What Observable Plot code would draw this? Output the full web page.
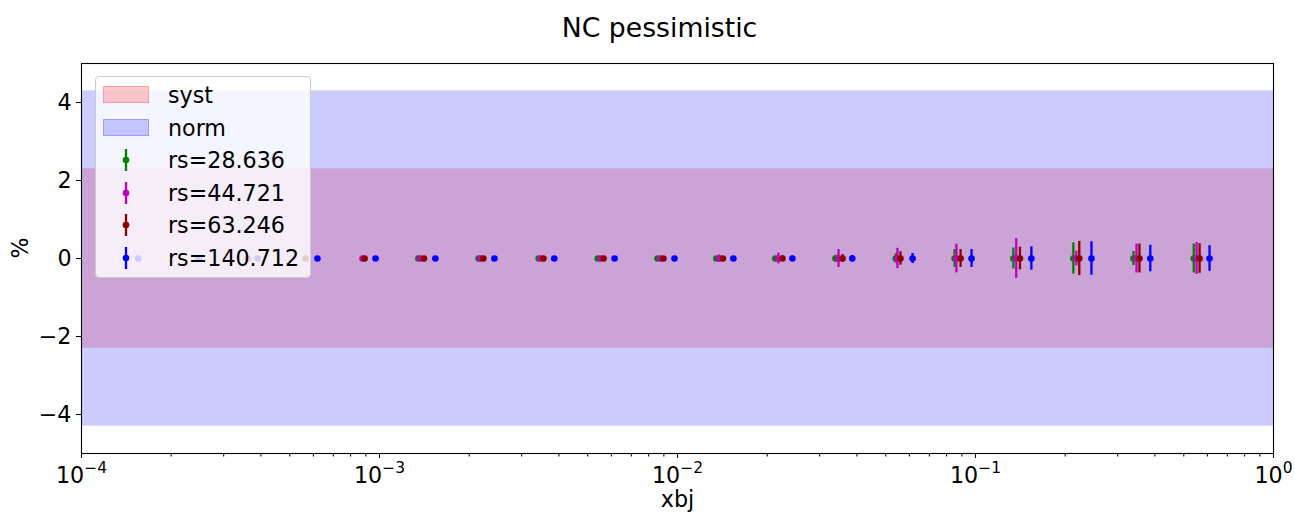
<!DOCTYPE html>
<html><head><meta charset="utf-8">
<script src="https://cdn.jsdelivr.net/npm/d3@7"></script>
<script src="https://cdn.jsdelivr.net/npm/@observablehq/plot@0.6"></script>
<style>
body{margin:0;background:#fff;font-family:"DejaVu Sans",sans-serif;}
#wrap{position:relative;width:1295px;height:515px;overflow:hidden;}
#legend{position:absolute;left:95px;top:76px;width:214px;height:200px;border:1px solid #cccccc;border-radius:4px;background:rgba(255,255,255,0.8);}
.row{position:absolute;left:0;width:214px;height:32px;}
.lbl{position:absolute;left:72px;top:0;height:32px;line-height:32px;font-size:22.2px;color:#000;white-space:nowrap;}
</style></head><body><div id="wrap"></div>
<script>
// ---- data ----
const titleText = "NC pessimistic";
const xLabel = "xbj";
const yLabel = "%";
const xDomain = [1e-4, 1];
const yDomain = [-5, 5];
const yTicks = [-4, -2, 0, 2, 4];
const xTicks = [1e-4, 1e-3, 1e-2, 1e-1, 1];
const xTickBase = "10";
const xTickExponents = ["\u22124", "\u22123", "\u22122", "\u22121", "0"];

const bandNames = ["syst", "norm"];
const bandHalf = [2.3, 4.3];
const bandColors = ["red", "blue"];

const seriesNames = ["rs=28.636", "rs=44.721", "rs=63.246", "rs=140.712"];
const seriesColors = ["green", "#bf00bf", "darkred", "blue"];

const xGreen = [1.35e-3, 2.15e-3, 3.42e-3, 5.40e-3, 8.57e-3, 1.35e-2, 2.13e-2, 3.39e-2, 5.40e-2, 8.51e-2, 0.134, 0.213, 0.339, 0.540];
const yGreen = [0, 0, 0, 0, 0, 0, 0, 0, 0, 0, 0, 0, 0, 0];
const eGreen = [0.01, 0.01, 0.02, 0.02, 0.03, 0.04, 0.05, 0.08, 0.12, 0.23, 0.27, 0.40, 0.18, 0.37];

const xMagenta = [8.77e-4, 1.37e-3, 2.18e-3, 3.47e-3, 5.52e-3, 8.77e-3, 1.38e-2, 2.18e-2, 3.47e-2, 5.47e-2, 8.63e-2, 0.137, 0.218, 0.347, 0.552];
const yMagenta = [0, 0, 0, 0, 0, 0, 0, 0, 0, 0, 0, 0, 0, 0, 0];
const eMagenta = [0.01, 0.01, 0.02, 0.02, 0.03, 0.05, 0.09, 0.14, 0.23, 0.26, 0.37, 0.51, 0.19, 0.37, 0.41];

const xRed = [3.61e-4, 5.65e-4, 8.91e-4, 1.41e-3, 2.23e-3, 3.55e-3, 5.65e-3, 8.97e-3, 1.42e-2, 2.25e-2, 3.58e-2, 5.60e-2, 8.91e-2, 0.141, 0.223, 0.355, 0.565];
const yRed = [0, 0, 0, 0, 0, 0, 0, 0, 0, 0, 0, 0, 0, 0, 0, 0, 0];
const eRed = [0.01, 0.01, 0.01, 0.02, 0.02, 0.03, 0.03, 0.04, 0.05, 0.07, 0.10, 0.17, 0.23, 0.29, 0.44, 0.37, 0.38];

const xBlue = [1.55e-4, 2.47e-4, 3.90e-4, 6.19e-4, 9.70e-4, 1.54e-3, 2.43e-3, 3.86e-3, 6.15e-3, 9.77e-3, 1.54e-2, 2.43e-2, 3.86e-2, 6.15e-2, 9.70e-2, 0.154, 0.245, 0.386, 0.610];
const yBlue = [0, 0, 0, 0, 0, 0, 0, 0, 0, 0, 0, 0, 0, 0, 0, 0, 0, 0, 0];
const eBlue = [0.01, 0.01, 0.01, 0.01, 0.02, 0.02, 0.02, 0.03, 0.03, 0.04, 0.05, 0.06, 0.08, 0.13, 0.23, 0.30, 0.43, 0.34, 0.33];

// ---- build ----
const seriesX = [xGreen, xMagenta, xRed, xBlue];
const seriesY = [yGreen, yMagenta, yRed, yBlue];
const seriesE = [eGreen, eMagenta, eRed, eBlue];

const bands = bandNames.map((n, i) => ({name: n, h: bandHalf[i], color: bandColors[i]}));

const minorTicks = [];
for (let e = -4; e < 0; e++) for (let m = 2; m <= 9; m++) minorTicks.push(m * Math.pow(10, e));

const marks = [];
bands.forEach(b => {
  marks.push(Plot.rect([b], {x1: () => xDomain[0], x2: () => xDomain[1], y1: d => -d.h, y2: d => d.h, fill: b.color, fillOpacity: 0.2}));
});
seriesNames.forEach((name, i) => {
  const data = seriesX[i].map((x, j) => ({x, y: seriesY[i][j], e: seriesE[i][j]}));
  marks.push(Plot.ruleX(data, {x: "x", y1: d => d.y - d.e, y2: d => d.y + d.e, stroke: seriesColors[i], strokeWidth: 2.3}));
  marks.push(Plot.dot(data, {x: "x", y: "y", r: 3.3, fill: seriesColors[i], stroke: "none"}));
});
marks.push(Plot.frame({stroke: "black", strokeWidth: 1.1}));
marks.push(Plot.axisY({ticks: yTicks, tickSize: 5, tickPadding: 5, fontSize: 22.2, label: null,
  tickFormat: d => d < 0 ? "\u2212" + Math.abs(d) : String(d)}));
marks.push(Plot.axisX({ticks: xTicks, tickSize: 5, tickPadding: 9, fontSize: 22.2, label: null,
  tickFormat: d => xTickBase + "^" + xTickExponents[xTicks.findIndex(t => Math.abs(t - d) / t < 1e-9)]}));
marks.push(Plot.axisX({ticks: minorTicks, tickSize: 3.5, tickFormat: () => "", label: null}));
marks.push(Plot.text([titleText], {frameAnchor: "top", dy: -45, dx: -18, fontSize: 26.7}));
marks.push(Plot.text([xLabel], {frameAnchor: "bottom", dy: 53, fontSize: 22.2}));
marks.push(Plot.text([yLabel], {frameAnchor: "left", dx: -61, rotate: -90, fontSize: 22.2}));

const chart = Plot.plot({
  width: 1295, height: 515,
  marginTop: 63, marginRight: 22, marginBottom: 62, marginLeft: 81,
  style: {fontFamily: "DejaVu Sans, sans-serif", background: "white", color: "black"},
  x: {type: "log", domain: xDomain},
  y: {domain: yDomain},
  marks
});
// superscript exponents in x tick labels
chart.querySelectorAll("text").forEach(t => {
  const s = t.textContent;
  if (s.includes("^") && t.children.length === 0) {
    const [base, exp] = s.split("^");
    t.textContent = base;
    const ts = document.createElementNS("http://www.w3.org/2000/svg", "tspan");
    ts.setAttribute("dy", "-10");
    ts.setAttribute("font-size", "15.5");
    ts.textContent = exp;
    t.appendChild(ts);
  }
});
const wrap = document.getElementById("wrap");
wrap.appendChild(chart);

// ---- legend ----
const leg = document.createElement("div");
leg.id = "legend";
const rowCenter = i => 18 + 32.6 * i;
bands.forEach((b, i) => {
  const r = document.createElement("div");
  r.className = "row"; r.style.top = (rowCenter(i) - 16) + "px";
  const p = document.createElement("div");
  const rgb = d3.color(b.color);
  p.style.cssText = `position:absolute;left:7px;top:7px;width:46px;height:17px;box-sizing:border-box;background:rgba(${rgb.r},${rgb.g},${rgb.b},0.2);border:1px solid rgba(${rgb.r},${rgb.g},${rgb.b},0.2);`;
  const t = document.createElement("div"); t.className = "lbl"; t.textContent = b.name;
  r.appendChild(p); r.appendChild(t); leg.appendChild(r);
});
seriesNames.forEach((name, i) => {
  const r = document.createElement("div");
  r.className = "row"; r.style.top = (rowCenter(i + 2) - 16) + "px";
  const c = seriesColors[i];
  r.innerHTML = `<svg width="60" height="32" style="position:absolute;left:0;top:0"><line x1="30" x2="30" y1="5" y2="27" stroke="${c}" stroke-width="2.3"/><circle cx="30" cy="16" r="3.3" fill="${c}"/></svg>`;
  const t = document.createElement("div"); t.className = "lbl"; t.textContent = name;
  r.appendChild(t); leg.appendChild(r);
});
wrap.appendChild(leg);
</script>
</body></html>
